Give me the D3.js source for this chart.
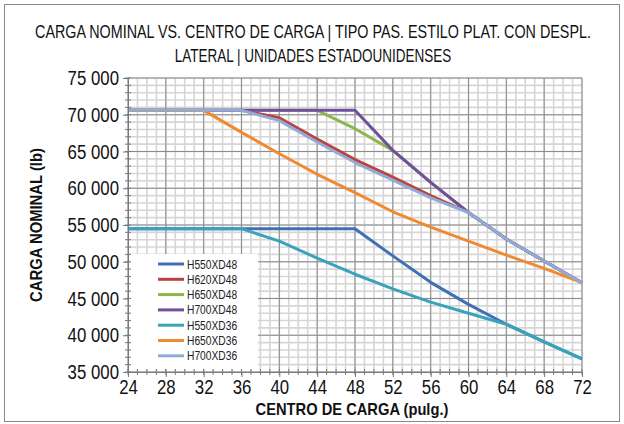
<!DOCTYPE html>
<html><head><meta charset="utf-8">
<script src="https://cdn.jsdelivr.net/npm/d3@7"></script>
<style>
html,body{margin:0;padding:0;background:#fff;}
svg{display:block;}
</style></head>
<body>
<svg id="chart" width="624" height="424"></svg>
<script>
// ---- data ----
const titleLines = ["CARGA NOMINAL VS. CENTRO DE CARGA | TIPO PAS. ESTILO PLAT. CON DESPL.", "LATERAL | UNIDADES ESTADOUNIDENSES"];
const xTitle = "CENTRO DE CARGA (pulg.)";
const yTitle = "CARGA NOMINAL (lb)";
const loadCenters = [24, 28, 32, 36, 40, 44, 48, 52, 56, 60, 64, 68, 72];
const xTicks = [24, 28, 32, 36, 40, 44, 48, 52, 56, 60, 64, 68, 72];
const yTicks = [35000, 40000, 45000, 50000, 55000, 60000, 65000, 70000, 75000];
const seriesNames = ["H550XD48", "H620XD48", "H650XD48", "H700XD48", "H550XD36", "H650XD36", "H700XD36"];
const H550XD48 = [54500, 54500, 54500, 54500, 54500, 54500, 54500, 50800, 47200, 44200, 41500, 39100, 36800];
const H620XD48 = [70600, 70600, 70600, 70600, 69600, 66700, 63900, 61500, 59000, 56700, 53100, 50100, 47150];
const H650XD48 = [70600, 70600, 70600, 70600, 70600, 70600, 68100, 65150, 60800, 56700, 53100, 50100, 47150];
const H700XD48 = [70600, 70600, 70600, 70600, 70600, 70600, 70600, 65150, 60800, 56700, 53100, 50100, 47150];
const H550XD36 = [54500, 54500, 54500, 54500, 52800, 50500, 48300, 46300, 44500, 43000, 41500, 39100, 36800];
const H650XD36 = [70600, 70600, 70600, 67600, 64700, 61900, 59400, 56800, 54700, 52800, 50900, 49100, 47150];
const H700XD36 = [70600, 70600, 70600, 70600, 69200, 66300, 63500, 61100, 58700, 56700, 53100, 50100, 47150];
const seriesValues = [H550XD48, H620XD48, H650XD48, H700XD48, H550XD36, H650XD36, H700XD36];
const colors = ["#3F70B5", "#B8433F", "#8CB650", "#70509E", "#3AA3BC", "#F08A32", "#92AAD8"];

// ---- layout ----
const svg = d3.select("#chart");
const L = 128, R = 582, T = 78, B = 372;
const x = d3.scaleLinear().domain([24, 72]).range([L, R]);
const y = d3.scaleLinear().domain([35000, 75000]).range([B, T]);
const sans = "'Liberation Sans',Arial,sans-serif";
const K = 0.82; // horizontal condensing to mimic a narrow face
function narrow(sel) {
  sel.each(function () {
    const t = d3.select(this);
    const x0 = +(t.attr("x") || 0);
    t.attr("x", x0 / K).attr("transform", `scale(${K},1)`);
  });
}
// place a text centred at (cx, cy-baseline), condensed to a target width
function fitText(g, str, cx, by, size, weight, width, rotate) {
  const t = g.append("text").attr("x", 0).attr("y", 0).attr("text-anchor", "middle")
    .attr("font-family", sans).attr("font-size", size).attr("font-weight", weight)
    .attr("fill", "#111").text(str);
  const len = t.node().getComputedTextLength();
  const k = Math.min(1, width / len);
  t.attr("transform", `translate(${cx},${by})${rotate ? " rotate(-90)" : ""} scale(${k},1)`);
  return t;
}

svg.append("rect").attr("x", 4.5).attr("y", 4.5).attr("width", 615).attr("height", 417)
  .attr("fill", "#fff").attr("stroke", "#8a8a8a").attr("stroke-width", 1);

// title
const tg = svg.append("g");
fitText(tg, titleLines[0], 313, 38, 18, "normal", 556, false);
fitText(tg, titleLines[1], 313, 62, 18, "normal", 277, false);

// grid
const minorX = d3.range(24, 73, 1);
const minorY = d3.range(35000, 75001, 1000);
const grid = svg.append("g");
grid.selectAll(".mx").data(minorX).join("line")
  .attr("x1", d => x(d)).attr("x2", d => x(d)).attr("y1", T).attr("y2", B)
  .attr("stroke", "#d6d6d6").attr("stroke-width", 1.6);
grid.selectAll(".my").data(minorY).join("line")
  .attr("y1", d => y(d)).attr("y2", d => y(d)).attr("x1", L).attr("x2", R)
  .attr("stroke", "#d6d6d6").attr("stroke-width", 1.6);
grid.selectAll(".Mx").data(xTicks).join("line")
  .attr("x1", d => x(d)).attr("x2", d => x(d)).attr("y1", T).attr("y2", B)
  .attr("stroke", "#8c8c8c").attr("stroke-width", 1);
grid.selectAll(".My").data(yTicks).join("line")
  .attr("y1", d => y(d)).attr("y2", d => y(d)).attr("x1", L).attr("x2", R)
  .attr("stroke", "#8c8c8c").attr("stroke-width", 1);

// lines
const line = d3.line().x((d, i) => x(loadCenters[i])).y(d => y(d));
svg.append("g").selectAll("path").data(seriesValues).join("path")
  .attr("d", d => line(d)).attr("fill", "none")
  .attr("stroke", (d, i) => colors[i]).attr("stroke-width", 3)
  .attr("stroke-linejoin", "round");

// legend
const lg = svg.append("g");
lg.append("rect").attr("x", 130).attr("y", 254).attr("width", 128).attr("height", 115).attr("fill", "#fff");
const items = lg.selectAll("g").data(seriesNames).join("g")
  .attr("transform", (d, i) => `translate(0,${264 + i * 15.3})`);
items.append("line").attr("x1", 158).attr("x2", 184).attr("y1", 0).attr("y2", 0)
  .attr("stroke", (d, i) => colors[i]).attr("stroke-width", 3);
items.append("text").attr("x", 187).attr("y", 0).attr("dy", "0.36em")
  .attr("font-family", sans).attr("font-size", 12.5)
  .attr("fill", "#222").text(d => d).call(narrow);

// axes
const fmt = v => d3.format(",")(v).replace(/,/g, " ");
const yAxis = d3.axisLeft(y).tickValues(yTicks).tickFormat(fmt).tickSize(5).tickPadding(4);
const gy = svg.append("g").attr("transform", `translate(${L},0)`).call(yAxis);
const xAxis = d3.axisBottom(x).tickValues(xTicks).tickFormat(d => d).tickSize(5).tickPadding(2);
const gx = svg.append("g").attr("transform", `translate(0,${B})`).call(xAxis);
[gx, gy].forEach(g => {
  g.selectAll(".domain").attr("stroke", "#7a7a7a");
  g.selectAll(".tick line").attr("stroke", "#7a7a7a");
  g.selectAll("text").attr("font-family", sans).attr("font-size", 20.5).attr("fill", "#111").call(narrow);
});
// minor ticks crossing axes
svg.append("g").selectAll("line").data(minorX).join("line")
  .attr("x1", d => x(d)).attr("x2", d => x(d)).attr("y1", B - 3).attr("y2", B + 3)
  .attr("stroke", "#7a7a7a");
svg.append("g").selectAll("line").data(minorY).join("line")
  .attr("y1", d => y(d)).attr("y2", d => y(d)).attr("x1", L - 3).attr("x2", L + 3)
  .attr("stroke", "#7a7a7a");

// axis titles
const ag = svg.append("g");
fitText(ag, xTitle, 352, 415, 16.5, "bold", 193, false);
fitText(ag, yTitle, 42, 225, 16, "bold", 154, true);
</script>
</body></html>
